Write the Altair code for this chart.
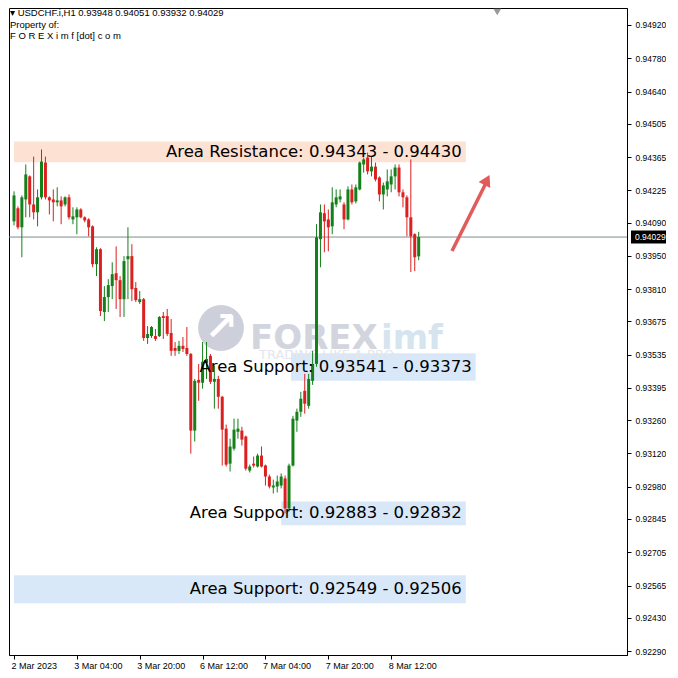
import json
import altair as alt
import pandas as pd

# ---------------- data ----------------
opens = [0.94095, 0.94150, 0.94070, 0.94187, 0.94284, 0.94166, 0.94133, 0.94196, 0.94342, 0.94196,
         0.94187, 0.94175, 0.94183, 0.94166, 0.94196, 0.94103, 0.94112, 0.94145, 0.94112, 0.94103,
         0.94074, 0.93915, 0.93978, 0.93714, 0.93777, 0.93823, 0.93877, 0.93848, 0.93768, 0.93936,
         0.93949, 0.93815, 0.93756, 0.93768, 0.93605, 0.93613, 0.93613, 0.93613, 0.93697, 0.93697,
         0.93626, 0.93563, 0.93551, 0.93572, 0.93563, 0.93538, 0.93216, 0.93429, 0.93417, 0.93500,
         0.93530, 0.93421, 0.93433, 0.93358, 0.93224, 0.93077, 0.93140, 0.93211, 0.93216, 0.93191,
         0.93048, 0.93077, 0.93065, 0.93111, 0.93069, 0.93023, 0.92977, 0.92981, 0.92985, 0.93015,
         0.92889, 0.93069, 0.93258, 0.93295, 0.93383, 0.93320, 0.93425, 0.93496, 0.94020, 0.94129,
         0.94103, 0.94074, 0.94166, 0.94187, 0.94166, 0.94103, 0.94229, 0.94179, 0.94229, 0.94334,
         0.94363, 0.94305, 0.94325, 0.94279, 0.94208, 0.94229, 0.94250, 0.94284, 0.94321, 0.94217,
         0.94196, 0.94112, 0.94041, 0.93948]
highs = [0.94221, 0.94158, 0.94204, 0.94334, 0.94288, 0.94367, 0.94229, 0.94397, 0.94367, 0.94200,
         0.94229, 0.94238, 0.94200, 0.94200, 0.94208, 0.94154, 0.94154, 0.94150, 0.94116, 0.94108,
         0.94078, 0.93986, 0.93982, 0.93823, 0.93852, 0.93923, 0.93990, 0.93865, 0.93949, 0.94070,
         0.93999, 0.93840, 0.93802, 0.93773, 0.93655, 0.93655, 0.93643, 0.93697, 0.93714, 0.93727,
         0.93685, 0.93588, 0.93593, 0.93609, 0.93651, 0.93542, 0.93433, 0.93496, 0.93588, 0.93588,
         0.93538, 0.93488, 0.93446, 0.93362, 0.93241, 0.93182, 0.93266, 0.93266, 0.93232, 0.93195,
         0.93073, 0.93107, 0.93119, 0.93149, 0.93073, 0.93031, 0.93010, 0.93027, 0.93036, 0.93027,
         0.93077, 0.93278, 0.93308, 0.93379, 0.93454, 0.93454, 0.93551, 0.94083, 0.94166, 0.94166,
         0.94145, 0.94238, 0.94229, 0.94229, 0.94175, 0.94242, 0.94250, 0.94250, 0.94346, 0.94363,
         0.94384, 0.94367, 0.94342, 0.94284, 0.94258, 0.94313, 0.94313, 0.94334, 0.94334, 0.94229,
         0.94204, 0.94355, 0.94045, 0.94051]
lows = [0.94078, 0.94062, 0.93944, 0.94112, 0.94112, 0.94103, 0.94074, 0.94187, 0.94187, 0.94124,
        0.94095, 0.94158, 0.94083, 0.94158, 0.94103, 0.94083, 0.94041, 0.94108, 0.94091, 0.94032,
        0.93902, 0.93865, 0.93697, 0.93676, 0.93714, 0.93768, 0.93727, 0.93693, 0.93693, 0.93768,
        0.93760, 0.93756, 0.93748, 0.93593, 0.93580, 0.93605, 0.93593, 0.93609, 0.93601, 0.93613,
        0.93530, 0.93530, 0.93538, 0.93546, 0.93530, 0.93119, 0.93170, 0.93341, 0.93392, 0.93433,
        0.93412, 0.93308, 0.93308, 0.93069, 0.93065, 0.93044, 0.93132, 0.93182, 0.93153, 0.93048,
        0.93040, 0.93061, 0.93061, 0.93061, 0.92985, 0.92973, 0.92952, 0.92956, 0.92973, 0.92868,
        0.92876, 0.93065, 0.93211, 0.93274, 0.93287, 0.93308, 0.93408, 0.93484, 0.93902, 0.93965,
        0.93969, 0.94041, 0.94154, 0.94175, 0.94062, 0.94099, 0.94166, 0.94170, 0.94225, 0.94300,
        0.94292, 0.94284, 0.94263, 0.94179, 0.94145, 0.94200, 0.94217, 0.94229, 0.94200, 0.94154,
        0.94032, 0.93882, 0.93886, 0.93932]
closes = [0.94204, 0.94070, 0.94196, 0.94292, 0.94166, 0.94133, 0.94196, 0.94346, 0.94196, 0.94183,
          0.94175, 0.94183, 0.94158, 0.94196, 0.94112, 0.94116, 0.94145, 0.94112, 0.94099, 0.94070,
          0.93915, 0.93978, 0.93718, 0.93777, 0.93827, 0.93873, 0.93848, 0.93768, 0.93928, 0.93949,
          0.93810, 0.93764, 0.93768, 0.93605, 0.93622, 0.93651, 0.93601, 0.93693, 0.93689, 0.93622,
          0.93551, 0.93551, 0.93572, 0.93559, 0.93538, 0.93216, 0.93425, 0.93417, 0.93505, 0.93517,
          0.93421, 0.93433, 0.93358, 0.93220, 0.93073, 0.93149, 0.93220, 0.93224, 0.93178, 0.93056,
          0.93065, 0.93069, 0.93111, 0.93065, 0.93023, 0.92981, 0.92985, 0.93002, 0.93023, 0.92889,
          0.93069, 0.93266, 0.93295, 0.93350, 0.93329, 0.93433, 0.93496, 0.94028, 0.94133, 0.94095,
          0.94070, 0.94175, 0.94196, 0.94200, 0.94103, 0.94229, 0.94175, 0.94238, 0.94342, 0.94355,
          0.94305, 0.94325, 0.94271, 0.94208, 0.94246, 0.94263, 0.94284, 0.94321, 0.94217, 0.94196,
          0.94112, 0.94032, 0.93944, 0.94029]

x_tick_idx = [0, 16, 32, 48, 64, 80, 96]
x_tick_labels = ["2 Mar 2023", "3 Mar 04:00", "3 Mar 20:00", "6 Mar 12:00",
                 "7 Mar 04:00", "7 Mar 20:00", "8 Mar 12:00"]
y_tick_values = [0.94920, 0.94780, 0.94640, 0.94505, 0.94365, 0.94225, 0.94090, 0.93950,
                 0.93810, 0.93675, 0.93535, 0.93395, 0.93260, 0.93120, 0.92980, 0.92845,
                 0.92705, 0.92565, 0.92430, 0.92290]

band_labels = ["Area Resistance: 0.94343 - 0.94430", "Area Support: 0.93541 - 0.93373",
               "Area Support: 0.92883 - 0.92832", "Area Support: 0.92549 - 0.92506"]
band_kind = ["res", "sup", "sup", "sup"]
band_top = [0.94430, 0.93541, 0.92918, 0.92608]
band_bottom = [0.94343, 0.93425, 0.92818, 0.92491]
band_start = [0, 70.5, 68, 0]
band_end = [115, 117.5, 115, 115]

header_lines = ["\u25BE USDCHF.i,H1  0.93948 0.94051 0.93932 0.94029",
                "Property of:",
                "F O R E X i m f [dot] c o m"]
last_price = closes[-1]
shift_marker_bar = 123

# ---------------- chart ----------------
W = 619                  # expected plot width (fit)
GREEN, RED = "#14801a", "#dc1f1f"

df = pd.DataFrame({"i": range(len(opens)), "o": opens, "h": highs, "l": lows, "c": closes})

bands = pd.DataFrame({"label": band_labels, "kind": band_kind, "top": band_top,
                      "bottom": band_bottom, "x0": band_start, "x1": band_end})
bands["mid"] = (bands["top"] + bands["bottom"]) / 2

xs = alt.Scale(domain=[0, W / 4], nice=False, zero=False)
ys = alt.Scale(domain=[0.922732, 0.949913], nice=False, zero=False)

label_expr = f"{json.dumps(x_tick_labels)}[indexof({json.dumps(x_tick_idx)}, datum.value)]"

xaxis = alt.Axis(values=x_tick_idx, labelExpr=label_expr, title=None, grid=False,
                 labelAlign="left", labelPadding=2, labelOffset=-3, tickSize=4, tickColor="black",
                 domainColor="black", labelFont="Liberation Sans", labelFontSize=9,
                 labelColor="black", labelFlush=False, labelOverlap=False)
yaxis = alt.Axis(values=y_tick_values, format=".5f", orient="right", title=None, grid=False,
                 tickSize=4, tickColor="black", domainColor="black", labelPadding=4,
                 labelFont="Liberation Sans", labelFontSize=8.5, labelColor="black",
                 labelOverlap=False, labelFlush=False)


def X(field):
    return alt.X(field, scale=xs, axis=xaxis)


def Y(field):
    return alt.Y(field, scale=ys, axis=yaxis)


candle_color = alt.condition("datum.c >= datum.o", alt.value(GREEN), alt.value(RED))

band_layer = alt.Chart(bands).mark_rect(clip=True).encode(
    x=X("x0:Q"), x2="x1:Q", y=Y("top:Q"), y2="bottom:Q",
    color=alt.condition("datum.kind == 'res'", alt.value("#fde1d2"), alt.value("#d8e8f8")),
)

one = pd.DataFrame({"k": [0]})

wm_circle = alt.Chart(one).mark_point(shape="circle", filled=True, size=2100, color="#cdd0da",
                                      opacity=1).encode(x=alt.value(212), y=alt.value(320))
wm_arrow = alt.Chart(one).mark_text(text="\u2197", font="DejaVu Sans", fontSize=40,
                                    fontWeight="bold", color="white").encode(
    x=alt.value(212), y=alt.value(320))
wm_forex = alt.Chart(one).mark_text(text="FOREX", font="DejaVu Sans", fontSize=34,
                                    fontWeight="bold", color="#d2d5de", align="left",
                                    baseline="alphabetic").encode(x=alt.value(241), y=alt.value(341))
wm_imf = alt.Chart(one).mark_text(text="imf", font="DejaVu Sans", fontSize=34,
                                  fontWeight="bold", color="#d5e4ef", align="left",
                                  baseline="alphabetic").encode(x=alt.value(372), y=alt.value(341))
wm_tag = alt.Chart(one).mark_text(text="TRADING LIKE A PRO", font="DejaVu Sans", fontSize=13,
                                  color="#e3e6ec", align="left").encode(x=alt.value(250), y=alt.value(347))

shift_marker = alt.Chart(pd.DataFrame({"i": [shift_marker_bar]})).mark_point(
    shape="triangle-down", filled=True, size=60, color="#9a9a9a", opacity=1).encode(
    x=X("i:Q"), y=alt.value(4))

price_df = pd.DataFrame({"p": [last_price]})
price_line = alt.Chart(price_df).mark_rule(color="#7e8c8c", strokeWidth=1).encode(y=Y("p:Q"))

wicks = alt.Chart(df).mark_rule(strokeWidth=1, clip=True).encode(
    x=X("i:Q"), y=Y("l:Q"), y2="h:Q", color=candle_color)
bodies = alt.Chart(df).mark_bar(width=3, clip=True).encode(
    x=X("i:Q"), y=Y("o:Q"), y2="c:Q", color=candle_color)

band_text = alt.Chart(bands).mark_text(align="right", baseline="middle", dx=-4,
                                       font="DejaVu Sans", fontSize=16.5, color="black").encode(
    x=X("x1:Q"), y=Y("mid:Q"), text="label:N")

arrow_shaft = alt.Chart(one).mark_rule(color="#e25a5a", strokeWidth=3.5).encode(
    x=alt.value(443), y=alt.value(243), x2=alt.value(477), y2=alt.value(175))
arrow_head = alt.Chart(one).mark_point(shape="triangle-up", filled=True, size=170,
                                       color="#e25a5a", opacity=1, angle=27).encode(
    x=alt.value(478), y=alt.value(172))

header = alt.Chart(pd.DataFrame({"t": header_lines, "row": [0, 1, 2]})).mark_text(
    align="left", baseline="middle", font="Liberation Sans", fontSize=9.5, color="black").encode(
    x=alt.value(1), y=alt.value(5), text="t:N",
    yOffset=alt.YOffset("row:Q", scale=alt.Scale(domain=[0, 2], range=[0, 23])))

price_box = alt.Chart(price_df).mark_rule(color="black", strokeWidth=13, strokeCap="butt").encode(
    x=alt.value(622), x2=alt.value(658), y=Y("p:Q"))
price_txt = alt.Chart(price_df).mark_text(
    align="left", baseline="middle", font="Liberation Sans", fontSize=8.5, color="white").encode(
    x=alt.value(626), y=Y("p:Q"), text=alt.Text("p:Q", format=".5f"))

chart = alt.layer(
    band_layer, wm_circle, wm_arrow, wm_forex, wm_imf, wm_tag, shift_marker, price_line,
    wicks, bodies, band_text, arrow_shaft, arrow_head, header, price_box, price_txt,
).properties(
    width=658, height=662, padding=0,
    autosize=alt.AutoSizeParams(type="fit", contains="padding"),
    background="white",
).configure_view(stroke="black", strokeWidth=1)

chart.save("out.html", embed_options={"renderer": "svg", "actions": False})
